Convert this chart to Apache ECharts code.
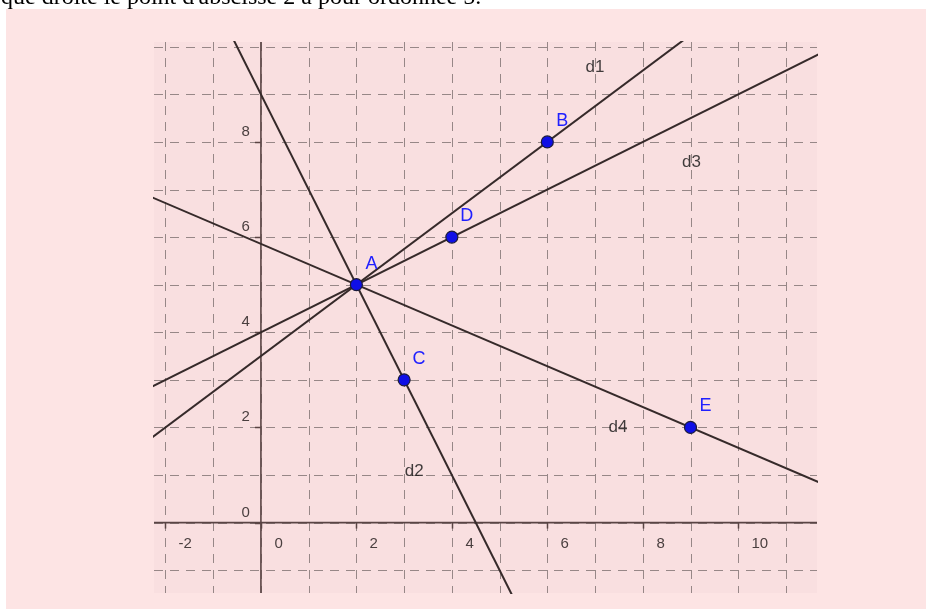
<!DOCTYPE html>
<html>
<head>
<meta charset="utf-8">
<script src="https://cdn.jsdelivr.net/npm/echarts@6/dist/echarts.min.js"></script>
<style>
  html, body {margin: 0; padding: 0; background: #ffffff;}
  #main {width: 926px; height: 609px;}
</style>
</head>
<body>
<div id="main"></div>
<script>
// visible window of the GeoGebra view
const xMin = -2.24, xMax = 11.65;
const yMin = -1.48, yMax = 10.1;

const gridX = [-2, -1, 0, 1, 2, 3, 4, 5, 6, 7, 8, 9, 10, 11];
const gridY = [-1, 0, 1, 2, 3, 4, 5, 6, 7, 8, 9, 10];
const xTicks = [-2, 0, 2, 4, 6, 8, 10];
const yTicks = [0, 2, 4, 6, 8];

const pointNames = ['A', 'B', 'C', 'D', 'E'];
const pointX = [2, 6, 3, 4, 9];
const pointY = [5, 8, 3, 6, 2];

// each line goes through A and one other point
const lineNames = ['d1', 'd2', 'd3', 'd4'];
const lineThrough = ['B', 'C', 'D', 'E'];
const lineLabelX = [7.0, 3.21, 9.02, 7.48];
const lineLabelY = [9.56, 1.07, 7.57, 2.0];

const caption = "que droite le point d'abscisse 2 a pour ordonnée 5.";

const myChart = echarts.init(document.getElementById('main'));

function pt(name) {
  const i = pointNames.indexOf(name);
  return [pointX[i], pointY[i]];
}

// extend a line through two points past the window, the grid clips it
function lineData(p, q) {
  const s = (q[1] - p[1]) / (q[0] - p[0]);
  const x0 = xMin - 3, x1 = xMax + 3;
  return [[x0, p[1] + s * (x0 - p[0])], [x1, p[1] + s * (x1 - p[0])]];
}

const lineSeries = lineNames.map((n, i) => ({
  type: 'line',
  name: n,
  data: lineData(pt('A'), pt(lineThrough[i])),
  symbol: 'none',
  silent: true,
  clip: true,
  z: 4,
  lineStyle: {color: '#362a2a', width: 2}
}));

const tickFont = '15px "Liberation Sans", Arial, sans-serif';

const option = {
  animation: false,
  backgroundColor: '#ffffff',
  graphic: [
    {
      type: 'rect', z: -10, silent: true,
      shape: {x: 6, y: 9, width: 920, height: 600},
      style: {fill: '#fde4e4'}
    },
    {
      type: 'text', z: -5, silent: true,
      x: 1, y: -2,
      style: {
        text: caption, fill: '#000000',
        font: '24px "Liberation Serif", "Times New Roman", serif',
        align: 'left', verticalAlign: 'middle'
      }
    }
  ],
  grid: {
    left: 154, top: 42, width: 663, height: 551,
    show: true, backgroundColor: '#f9dfe0', borderWidth: 0
  },
  xAxis: {
    type: 'value', min: xMin, max: xMax, show: false
  },
  yAxis: {
    type: 'value', min: yMin, max: yMax, show: false
  },
  series: [
    {
      type: 'custom', silent: true, z: 1,
      data: gridX.map(v => [v, 0]),
      renderItem: (params, api) => {
        const a = api.coord([api.value(0), yMax]);
        const b = api.coord([api.value(0), yMin]);
        const x = Math.round(a[0]) + 0.5;
        return {
          type: 'line',
          shape: {x1: x, y1: a[1], x2: x, y2: b[1]},
          style: {stroke: '#978787', lineWidth: 1, lineDash: [9, 7]}
        };
      }
    },
    {
      type: 'custom', silent: true, z: 1,
      data: gridY.map(v => [0, v]),
      renderItem: (params, api) => {
        const a = api.coord([xMin, api.value(1)]);
        const b = api.coord([xMax, api.value(1)]);
        const y = Math.round(a[1]) + 0.5;
        return {
          type: 'line',
          shape: {x1: a[0], y1: y, x2: b[0], y2: y},
          style: {stroke: '#978787', lineWidth: 1, lineDash: [9, 7]}
        };
      }
    },
    {
      type: 'line', silent: true, symbol: 'none', z: 2,
      data: [[xMin, 0], [xMax, 0]],
      lineStyle: {color: '#5a4444', width: 1.6}
    },
    {
      type: 'line', silent: true, symbol: 'none', z: 2,
      data: [[0, yMin], [0, yMax]],
      lineStyle: {color: '#5a4444', width: 1.6}
    },
    {
      type: 'custom', silent: true, z: 3,
      data: xTicks.map(v => [v, 0]),
      renderItem: (params, api) => {
        const c = api.coord([api.value(0), 0]);
        const x = Math.round(c[0]) + 0.5;
        return {
          type: 'group',
          children: [
            {type: 'line', shape: {x1: x, y1: c[1], x2: x, y2: c[1] + 6},
             style: {stroke: '#5a4444', lineWidth: 1.5}},
            {type: 'text', x: x + 13, y: c[1] + 21,
             style: {text: String(api.value(0)), fill: '#4a3f3f', font: tickFont,
                     align: 'left', verticalAlign: 'middle'}}
          ]
        };
      }
    },
    {
      type: 'custom', silent: true, z: 3,
      data: yTicks.map(v => [0, v]),
      renderItem: (params, api) => {
        const c = api.coord([0, api.value(1)]);
        const y = Math.round(c[1]) + 0.5;
        return {
          type: 'group',
          children: [
            {type: 'line', shape: {x1: c[0] - 6, y1: y, x2: c[0], y2: y},
             style: {stroke: '#5a4444', lineWidth: 1.5}},
            {type: 'text', x: c[0] - 11, y: y - 11,
             style: {text: String(api.value(1)), fill: '#4a3f3f', font: tickFont,
                     align: 'right', verticalAlign: 'middle'}}
          ]
        };
      }
    },
    ...lineSeries,
    {
      type: 'scatter', silent: true, z: 5,
      data: lineNames.map((n, i) => [lineLabelX[i], lineLabelY[i], n]),
      symbolSize: 0,
      label: {
        show: true, position: 'inside', formatter: p => p.value[2],
        color: '#111111', fontSize: 17, fontFamily: '"Liberation Sans", Arial, sans-serif'
      }
    },
    {
      type: 'scatter', silent: true, z: 6,
      data: pointNames.map((n, i) => [pointX[i], pointY[i], n]),
      symbol: 'circle', symbolSize: 12,
      itemStyle: {color: '#0f0fe6', borderColor: '#1c1c3c', borderWidth: 1.2, opacity: 1},
      label: {
        show: true, position: 'inside', offset: [15, -21],
        formatter: p => p.value[2],
        color: '#2020ff', fontSize: 18, fontFamily: '"Liberation Sans", Arial, sans-serif'
      }
    }
  ]
};

myChart.setOption(option);
</script>
</body>
</html>
